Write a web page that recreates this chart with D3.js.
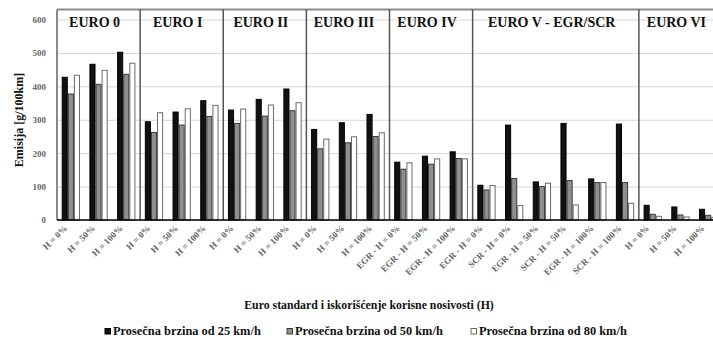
<!DOCTYPE html>
<html>
<head>
<meta charset="utf-8">
<script src="https://cdn.jsdelivr.net/npm/d3@7"></script>
<style>
  html, body { margin: 0; padding: 0; background: #fff; }
  svg { display: block; }
  svg text { font-family: "Liberation Serif", "DejaVu Serif", "Times New Roman", serif; }
</style>
</head>
<body>
<div id="chart"></div>
<script>
// Euro standard groups and how many categories each one spans
const sections = ["EURO 0", "EURO I", "EURO II", "EURO III", "EURO IV", "EURO V - EGR/SCR", "EURO VI"];
const sectionSizes = [3, 3, 3, 3, 3, 6, 3];

// Load factor categories along the x axis
const categories = [
  "H = 0%", "H = 50%", "H = 100%",
  "H = 0%", "H = 50%", "H = 100%",
  "H = 0%", "H = 50%", "H = 100%",
  "H = 0%", "H = 50%", "H = 100%",
  "EGR - H = 0%", "EGR - H = 50%", "EGR - H = 100%",
  "EGR - H = 0%", "SCR - H = 0%", "EGR - H = 50%", "SCR - H = 50%", "EGR - H = 100%", "SCR - H = 100%",
  "H = 0%", "H = 50%", "H = 100%"
];

// Emission per series [g/100km]
const speed25 = [427, 466, 502, 294, 323, 357, 329, 361, 392, 271, 291, 316, 173, 191, 204, 104, 284, 114, 289, 123, 287, 44, 39, 32];
const speed50 = [377, 406, 436, 262, 284, 310, 289, 311, 327, 213, 231, 250, 152, 167, 184, 90, 124, 100, 118, 112, 112, 17, 15, 14];
const speed80 = [433, 448, 469, 321, 333, 343, 332, 344, 351, 242, 249, 261, 171, 183, 183, 103, 43, 110, 45, 112, 50, 11, 9, 8];

const seriesNames = ["Prosečna brzina od 25 km/h", "Prosečna brzina od 50 km/h", "Prosečna brzina od 80 km/h"];
const yTicks = [0, 100, 200, 300, 400, 500, 600];

const xTitle = "Euro standard i iskorišćenje korisne nosivosti (H)";
const yTitle = "Emisija [g/100km]";

// ---- layout ----
const W = 713, H = 341;
const plotLeft = 57, plotRight = 722, baseY = 220, topY = 19.5;
const serif = "'Liberation Serif', 'DejaVu Serif', serif";

const svg = d3.select("#chart").append("svg").attr("width", W).attr("height", H)
  .attr("font-family", serif);

const series = [speed25, speed50, speed80];
const styles = [
  { fill: "#111", stroke: "#000" },
  { fill: "#8f8f8f", stroke: "#3a3a3a" },
  { fill: "#fff", stroke: "#6a6a6a" }
];

const idx = d3.range(categories.length);
const x = d3.scaleBand().domain(idx).range([plotLeft, plotRight]).paddingInner(0.34).paddingOuter(0.17);
const xs = d3.scaleBand().domain([0, 1, 2]).range([0, x.bandwidth()]).padding(0);
const y = d3.scaleLinear().domain([0, 600]).range([baseY, topY]);
const step = x.step();
const frameTop = y(630);

// gridlines
svg.append("g")
  .attr("class", "grid")
  .call(d3.axisLeft(y).tickValues(yTicks).tickSize(-(plotRight - plotLeft)).tickFormat(""))
  .attr("transform", `translate(${plotLeft},0)`)
  .call(g => g.select(".domain").remove())
  .call(g => g.selectAll("line").attr("stroke", "#d6d6d6").attr("stroke-width", 1));

// bars
series.forEach((vals, s) => {
  svg.append("g")
    .selectAll("rect")
    .data(vals)
    .join("rect")
    .attr("x", (d, i) => x(i) + xs(s) + 0.5)
    .attr("y", d => y(d))
    .attr("width", xs.bandwidth() - 1)
    .attr("height", d => baseY - y(d))
    .attr("fill", styles[s].fill)
    .attr("stroke", styles[s].stroke)
    .attr("stroke-width", 1);
});

// section frame and separators
let acc = 0;
const bounds = sectionSizes.map(n => { const b = [acc, acc + n]; acc += n; return b; });
const edgeX = i => plotLeft + i * step;

svg.append("line")
  .attr("x1", plotLeft).attr("x2", plotRight)
  .attr("y1", frameTop).attr("y2", frameTop)
  .attr("stroke", "#8a8a8a").attr("stroke-width", 2);
svg.append("line")
  .attr("x1", plotLeft).attr("x2", plotLeft)
  .attr("y1", frameTop).attr("y2", baseY)
  .attr("stroke", "#8a8a8a").attr("stroke-width", 2);

svg.append("g")
  .selectAll("line")
  .data(bounds.slice(1))
  .join("line")
  .attr("x1", d => edgeX(d[0])).attr("x2", d => edgeX(d[0]))
  .attr("y1", frameTop).attr("y2", baseY)
  .attr("stroke", "#555").attr("stroke-width", 1.5);

// section titles
svg.append("g")
  .selectAll("text")
  .data(sections)
  .join("text")
  .attr("x", (d, i) => (edgeX(bounds[i][0]) + edgeX(bounds[i][1])) / 2 - 4)
  .attr("y", 27)
  .attr("text-anchor", "middle")
  .attr("font-family", serif)
  .attr("font-weight", "bold")
  .attr("font-size", 14)
  .attr("fill", "#111")
  .text(d => d);

// baseline
svg.append("line")
  .attr("x1", plotLeft).attr("x2", plotRight)
  .attr("y1", baseY).attr("y2", baseY)
  .attr("stroke", "#000").attr("stroke-width", 1.5);

// y axis labels
svg.append("g")
  .attr("transform", `translate(${plotLeft},0)`)
  .call(d3.axisLeft(y).tickValues(yTicks).tickSize(0).tickPadding(11))
  .attr("font-family", serif)
  .call(g => g.select(".domain").remove())
  .call(g => g.selectAll("text")
    .attr("font-family", serif)
    .attr("font-weight", "bold")
    .attr("font-size", 9)
    .attr("fill", "#666"));

// x category labels, rotated
svg.append("g")
  .selectAll("text")
  .data(categories)
  .join("text")
  .attr("transform", (d, i) => `translate(${x(i) + x.bandwidth() / 2 - 3},${baseY + 9}) rotate(-45)`)
  .attr("text-anchor", "end")
  .attr("font-family", serif)
  .attr("font-size", 9)
  .attr("font-weight", "bold")
  .attr("fill", "#666")
  .text(d => d);

// axis titles
svg.append("text")
  .attr("x", 369).attr("y", 309)
  .attr("text-anchor", "middle")
  .attr("font-family", serif)
  .attr("font-weight", "bold")
  .attr("font-size", 11.8)
  .attr("fill", "#111")
  .text(xTitle);

svg.append("text")
  .attr("transform", `translate(23,120) rotate(-90)`)
  .attr("text-anchor", "middle")
  .attr("font-family", serif)
  .attr("font-weight", "bold")
  .attr("font-size", 12)
  .attr("fill", "#111")
  .text(yTitle);

// legend
const legendX = [105, 287, 471];
const lg = svg.append("g")
  .selectAll("g")
  .data(seriesNames)
  .join("g")
  .attr("transform", (d, i) => `translate(${legendX[i]},335)`);
lg.append("rect")
  .attr("x", 0).attr("y", -6.5)
  .attr("width", 5.5).attr("height", 5.5)
  .attr("fill", (d, i) => styles[i].fill)
  .attr("stroke", (d, i) => styles[i].stroke)
  .attr("stroke-width", 1);
lg.append("text")
  .attr("x", 8).attr("y", 0)
  .attr("font-family", serif)
  .attr("font-weight", "bold")
  .attr("font-size", 12.4)
  .attr("fill", "#111")
  .text(d => d);
</script>
</body>
</html>
